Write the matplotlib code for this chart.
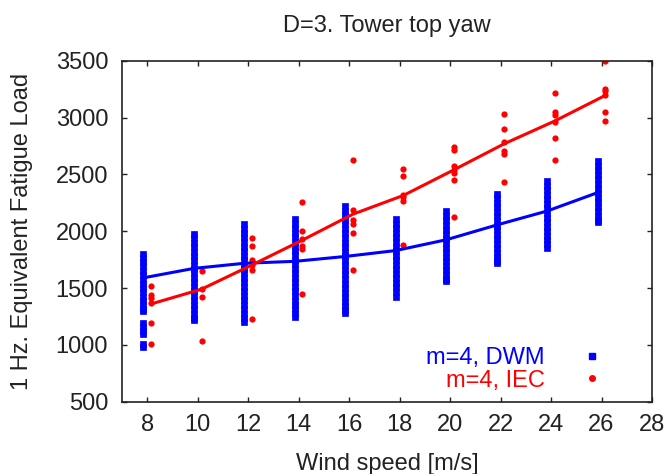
import matplotlib
matplotlib.use("Agg")
import matplotlib.pyplot as plt
from matplotlib.lines import Line2D

plt.rcParams['font.family'] = ['Liberation Sans', 'DejaVu Sans']

# wind speed bins [m/s]
wind = [8, 10, 12, 14, 16, 18, 20, 22, 24, 26]

# mean lines
dwm_mean = [1590, 1673, 1718, 1735, 1778, 1830, 1925, 2055, 2178, 2340]
iec_mean = [1360, 1490, 1703, 1922, 2150, 2315, 2540, 2770, 2970, 3195]

# DWM samples per wind speed (dense columns)
dwm_8 = [1800, 1765, 1725, 1690, 1650, 1615, 1575, 1540, 1500, 1465, 1425,
         1390, 1350, 1320, 1295, 1195, 1160, 1125, 1095, 1005, 980]
dwm_10 = [1975, 1940, 1900, 1860, 1820, 1785, 1745, 1705, 1665, 1630, 1590,
          1550, 1510, 1470, 1430, 1395, 1355, 1315, 1275, 1240, 1220]
dwm_12 = [2060, 2020, 1980, 1945, 1905, 1865, 1825, 1785, 1745, 1705, 1665,
          1630, 1590, 1550, 1510, 1470, 1430, 1395, 1355, 1315, 1275, 1240, 1200]
dwm_14 = [2105, 2065, 2025, 1985, 1945, 1905, 1865, 1825, 1790, 1750, 1710,
          1670, 1630, 1590, 1550, 1510, 1470, 1430, 1390, 1355, 1315, 1280, 1245]
dwm_16 = [2220, 2180, 2140, 2100, 2060, 2020, 1980, 1940, 1900, 1860, 1820,
          1780, 1740, 1700, 1660, 1620, 1580, 1540, 1500, 1460, 1420, 1380,
          1345, 1310, 1280]
dwm_18 = [2105, 2065, 2025, 1985, 1945, 1905, 1865, 1825, 1785, 1745, 1705,
          1665, 1625, 1585, 1545, 1505, 1465, 1425]
dwm_20 = [2175, 2135, 2095, 2055, 2015, 1975, 1935, 1895, 1855, 1815, 1775,
          1735, 1695, 1655, 1615, 1580, 1560]
dwm_22 = [2330, 2290, 2250, 2210, 2170, 2130, 2090, 2050, 2010, 1970, 1930,
          1890, 1850, 1810, 1770, 1740, 1720]
dwm_24 = [2440, 2400, 2360, 2320, 2280, 2240, 2200, 2160, 2120, 2080, 2040,
          2000, 1960, 1920, 1885, 1850]
dwm_26 = [2615, 2575, 2535, 2495, 2455, 2415, 2375, 2335, 2295, 2255, 2215,
          2175, 2135, 2100, 2080]

# IEC samples per wind speed
iec_8 = [1515, 1435, 1410, 1365, 1190, 1005]
iec_10 = [1650, 1495, 1425, 1035]
iec_12 = [1940, 1870, 1750, 1700, 1655, 1225]
iec_14 = [2260, 2000, 1930, 1870, 1840, 1450]
iec_16 = [2625, 2190, 2100, 2065, 1985, 1660]
iec_18 = [2550, 2490, 2320, 2300, 2265, 1880]
iec_20 = [2740, 2715, 2570, 2540, 2510, 2450, 2125]
iec_22 = [3035, 2900, 2785, 2710, 2680, 2435]
iec_24 = [3220, 3050, 3020, 2965, 2820, 2625]
iec_26 = [3495, 3255, 3230, 3195, 3050, 2970]

dwm_samples = [dwm_8, dwm_10, dwm_12, dwm_14, dwm_16,
               dwm_18, dwm_20, dwm_22, dwm_24, dwm_26]
iec_samples = [iec_8, iec_10, iec_12, iec_14, iec_16,
               iec_18, iec_20, iec_22, iec_24, iec_26]

blue = '#0000ff'
red = '#ff0000'
txt = '#222222'
shift = 0.15  # the two series sit slightly either side of each bin

fig = plt.figure(figsize=(6.69, 4.74), dpi=100)
ax = fig.add_axes([0.1824, 0.1525, 0.7922, 0.7194])

for ws, vals in zip(wind, dwm_samples):
    ax.plot([ws - shift] * len(vals), vals, ls='none', marker='s',
            ms=4.4, mew=0.5, color=blue)
for ws, vals in zip(wind, iec_samples):
    ax.plot([ws + shift] * len(vals), vals, ls='none', marker='o',
            ms=4.5, mew=0, color=red)

ax.plot([w - shift for w in wind], dwm_mean, color=blue, lw=2.2)
ax.plot([w + shift for w in wind], iec_mean, color=red, lw=2.2)

ax.set_xlim(7, 28)
ax.set_ylim(500, 3500)
ax.set_xticks(range(8, 29, 2))
ax.set_yticks(range(500, 3501, 500))
ax.tick_params(direction='in', length=3.6, width=1, top=True, right=True,
               labelsize=17, labelcolor=txt, color=txt)
ax.tick_params(axis='y', pad=10)
ax.tick_params(axis='x', pad=9)
for s in ax.spines.values():
    s.set_linewidth(1.2)
    s.set_color(txt)

ax.set_xlabel('Wind speed [m/s]', fontsize=17, color=txt)
ax.xaxis.set_label_coords(0.5, -0.15)
ax.set_ylabel('1 Hz. Equivalent Fatigue Load', fontsize=17, color=txt)
ax.yaxis.set_label_coords(-0.168, 0.5)

fig.text(0.5786, 1 - 32.3 / 474, 'D=3. Tower top yaw', fontsize=17,
         color=txt, ha='center', va='baseline')

handles = [Line2D([], [], ls='none', marker='s', ms=4, color=blue),
           Line2D([], [], ls='none', marker='o', ms=4, color=red)]
ax.legend(handles, ['m=4, DWM', 'm=4, IEC'], loc='center right',
          bbox_to_anchor=(0.9313, 0.095), frameon=False, fontsize=17,
          markerfirst=False, labelcolor='linecolor', handlelength=2,
          handletextpad=1.0, labelspacing=0.03, borderpad=0,
          borderaxespad=0)

fig.savefig('out.png', dpi=100)
